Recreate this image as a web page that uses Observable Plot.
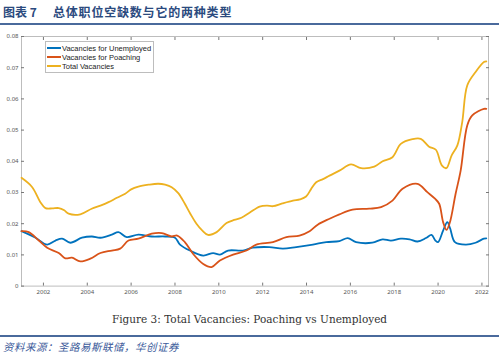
<!DOCTYPE html>
<html>
<head>
<meta charset="utf-8">
<script src="https://cdn.jsdelivr.net/npm/d3@7"></script>
<script src="https://cdn.jsdelivr.net/npm/@observablehq/plot@0.6"></script>
<style>
  html, body { margin: 0; padding: 0; background: #fff; }
  body { width: 499px; height: 355px; position: relative; overflow: hidden; }
  .title { position: absolute; top: 3px; font-family: "Noto Sans CJK SC", sans-serif; font-weight: bold; font-size: 12px; color: #2b4a7e; white-space: pre; }
  .rule { position: absolute; left: 0; width: 499px; height: 2px; background: #4a6a9c; }
  #chart { position: absolute; left: 0; top: 26px; }
  .legend { position: absolute; left: 45px; top: 41px; width: 107px; height: 30px; border: 1px solid #bdbdbd; background: #fff; font-family: "Liberation Sans", Arial, sans-serif; font-size: 7.5px; color: #222; }
  .legend div { position: absolute; left: 1px; height: 9px; line-height: 9px; white-space: nowrap; }
  .legend span.sw { display: inline-block; width: 14px; height: 2px; vertical-align: middle; margin-right: 1px; position: relative; top: -1px; }
  .caption { position: absolute; left: 0; width: 499px; top: 313px; text-align: center; font-family: "DejaVu Serif", "Liberation Serif", serif; font-size: 10.5px; color: #333; }
  .source { position: absolute; left: 3px; top: 339px; font-family: "Noto Sans CJK SC", sans-serif; font-size: 10.5px; letter-spacing: 0.5px; font-style: italic; color: #3b5a9a; white-space: pre; }
</style>
</head>
<body>
<div class="title" style="left:3px">图表 7</div>
<div class="title" style="left:53px; letter-spacing:0.8px">总体职位空缺数与它的两种类型</div>
<div class="rule" style="top:23px"></div>
<div id="chart"></div>
<div class="legend" id="legend"></div>
<div class="caption">Figure 3: Total Vacancies: Poaching vs Unemployed</div>
<div class="rule" style="top:335px"></div>
<div class="source">资料来源：圣路易斯联储，华创证券</div>
<script>
const seriesNames = ["Vacancies for Unemployed", "Vacancies for Poaching", "Total Vacancies"];
const seriesColors = ["#0072BD", "#D95319", "#EDB120"];

const unempYears = [2001.0, 2001.64, 2002.17, 2002.55, 2002.85, 2003.23, 2003.76, 2004.21, 2004.6, 2005.12, 2005.42, 2005.8, 2006.33, 2006.94, 2007.55, 2008.0, 2008.23, 2008.68, 2009.29, 2009.74, 2010.05, 2010.42, 2011.1, 2011.55, 2012.3, 2012.92, 2013.53, 2014.29, 2014.9, 2015.5, 2015.88, 2016.26, 2017.0, 2017.47, 2017.85, 2018.3, 2018.7, 2019.06, 2019.45, 2019.7, 2019.88, 2020.0, 2020.23, 2020.42, 2020.55, 2020.77, 2021.26, 2021.71, 2022.09, 2022.2];
const unempValues = [0.0176, 0.0155, 0.0133, 0.0146, 0.0152, 0.0139, 0.0155, 0.0159, 0.0155, 0.0165, 0.0173, 0.0157, 0.0165, 0.0159, 0.0159, 0.0155, 0.0133, 0.0114, 0.0098, 0.0106, 0.0101, 0.0114, 0.0114, 0.0123, 0.0125, 0.0120, 0.0125, 0.0133, 0.0141, 0.0144, 0.0154, 0.0141, 0.0139, 0.0150, 0.0146, 0.0152, 0.0150, 0.0143, 0.0154, 0.0164, 0.0146, 0.0141, 0.0178, 0.0205, 0.0185, 0.0141, 0.0133, 0.0139, 0.0152, 0.0153];

const poachYears = [2001.0, 2001.33, 2001.79, 2002.17, 2002.7, 2003.0, 2003.3, 2003.68, 2004.14, 2004.6, 2005.12, 2005.5, 2005.88, 2006.33, 2006.94, 2007.4, 2007.85, 2008.1, 2008.45, 2008.83, 2009.29, 2009.67, 2010.05, 2010.65, 2011.26, 2011.71, 2012.47, 2013.08, 2013.68, 2014.14, 2014.51, 2015.05, 2015.5, 2016.1, 2016.86, 2017.4, 2017.92, 2018.38, 2019.06, 2019.51, 2019.86, 2020.05, 2020.23, 2020.38, 2020.53, 2020.8, 2021.03, 2021.33, 2021.56, 2022.09, 2022.2];
const poachValues = [0.0176, 0.0173, 0.0146, 0.0123, 0.0106, 0.0089, 0.0091, 0.0079, 0.0088, 0.0106, 0.0114, 0.0120, 0.0146, 0.0152, 0.0168, 0.0170, 0.0159, 0.0162, 0.0141, 0.0103, 0.0071, 0.0061, 0.0082, 0.0101, 0.0114, 0.0133, 0.0141, 0.0157, 0.0162, 0.0176, 0.0197, 0.0216, 0.0230, 0.0245, 0.0248, 0.0253, 0.0274, 0.0312, 0.0328, 0.0301, 0.0280, 0.0264, 0.0205, 0.0180, 0.0202, 0.0296, 0.0370, 0.0515, 0.0547, 0.0568, 0.0568];

const totalYears = [2001.0, 2001.49, 2001.86, 2002.09, 2002.4, 2002.7, 2002.95, 2003.15, 2003.68, 2004.2, 2004.6, 2004.97, 2005.35, 2005.73, 2006.0, 2006.33, 2006.8, 2007.24, 2007.55, 2007.85, 2008.15, 2008.45, 2008.7, 2008.98, 2009.25, 2009.51, 2009.9, 2010.35, 2010.7, 2011.03, 2011.4, 2011.86, 2012.2, 2012.47, 2012.9, 2013.38, 2013.7, 2013.98, 2014.2, 2014.44, 2014.75, 2015.05, 2015.5, 2016.03, 2016.49, 2017.09, 2017.47, 2017.92, 2018.3, 2018.83, 2019.21, 2019.59, 2019.9, 2020.17, 2020.38, 2020.62, 2020.88, 2021.1, 2021.33, 2021.71, 2022.09, 2022.2];
const totalValues = [0.0347, 0.0317, 0.0269, 0.0250, 0.0249, 0.0250, 0.0243, 0.0232, 0.0230, 0.0248, 0.0258, 0.0269, 0.0283, 0.0296, 0.0310, 0.0319, 0.0325, 0.0328, 0.0325, 0.0317, 0.0298, 0.0264, 0.0232, 0.0200, 0.0178, 0.0164, 0.0173, 0.0202, 0.0212, 0.0219, 0.0235, 0.0255, 0.0258, 0.0256, 0.0265, 0.0274, 0.0278, 0.0287, 0.0310, 0.0333, 0.0343, 0.0354, 0.0370, 0.0390, 0.0378, 0.0383, 0.0400, 0.0413, 0.0456, 0.0471, 0.0472, 0.0447, 0.0437, 0.0387, 0.0378, 0.0419, 0.0451, 0.0525, 0.0643, 0.0686, 0.0718, 0.0720];

const xTicks = [2002, 2004, 2006, 2008, 2010, 2012, 2014, 2016, 2018, 2020, 2022];
const yTicks = [0, 0.01, 0.02, 0.03, 0.04, 0.05, 0.06, 0.07, 0.08];

const toRows = (years, values, name) => years.map((t, i) => ({t, v: values[i], s: name}));
const rows = [
  ...toRows(unempYears, unempValues, seriesNames[0]),
  ...toRows(poachYears, poachValues, seriesNames[1]),
  ...toRows(totalYears, totalValues, seriesNames[2])
];

const tickStroke = "#777";

const chart = Plot.plot({
  width: 499,
  height: 280,
  marginLeft: 21,
  marginRight: 11,
  marginTop: 10,
  marginBottom: 20.4,
  style: {background: "#fff", overflow: "visible"},
  x: {domain: [2001, 2022.3]},
  y: {domain: [0, 0.08]},
  color: {domain: seriesNames, range: seriesColors},
  marks: [
    Plot.frame({stroke: "#bdbdbd", strokeWidth: 1}),
    Plot.axisX(xTicks, {anchor: "bottom", tickSize: 0, tickPadding: 4, tickFormat: d => String(d), fontSize: 6, fill: "#555", label: null}),
    Plot.axisY(yTicks, {anchor: "left", tickSize: 0, tickPadding: 3, tickFormat: d => d === 0 ? "0" : d.toFixed(2), fontSize: 6, fill: "#555", label: null}),
    Plot.axisX(xTicks, {anchor: "bottom", tickSize: -3, text: null, stroke: tickStroke, label: null}),
    Plot.axisX(xTicks, {anchor: "top", tickSize: -3, text: null, stroke: tickStroke, label: null}),
    Plot.axisY(yTicks, {anchor: "left", tickSize: -3, text: null, stroke: tickStroke, label: null}),
    Plot.axisY(yTicks, {anchor: "right", tickSize: -3, text: null, stroke: tickStroke, label: null}),
    Plot.line(rows, {x: "t", y: "v", z: "s", stroke: "s", strokeWidth: 1.8, curve: "catmull-rom"})
  ]
});
document.getElementById("chart").appendChild(chart);

const legend = document.getElementById("legend");
seriesNames.forEach((name, i) => {
  const row = document.createElement("div");
  row.style.top = (2 + i * 9.2) + "px";
  const sw = document.createElement("span");
  sw.className = "sw";
  sw.style.background = seriesColors[i];
  row.appendChild(sw);
  row.appendChild(document.createTextNode(name));
  legend.appendChild(row);
});
</script>
</body>
</html>
